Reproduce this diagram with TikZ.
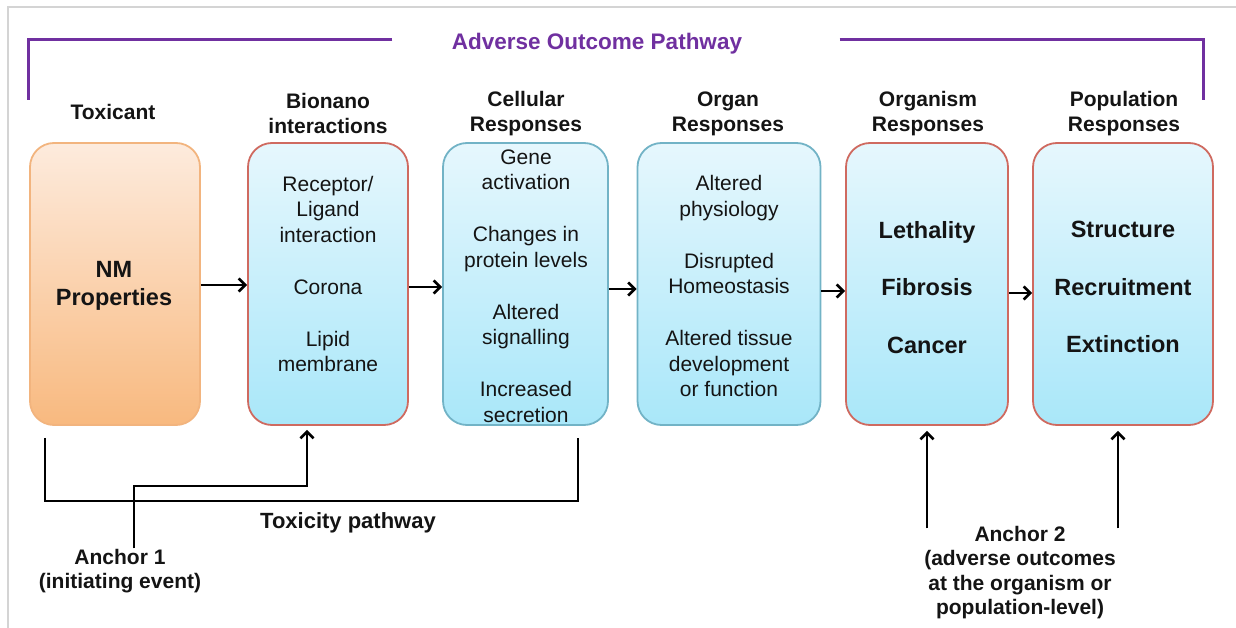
\documentclass[tikz,border=0pt]{standalone}
\usepackage{fontspec}
\setmainfont{Liberation Sans}
\usetikzlibrary{arrows.meta}
\definecolor{aopurple}{HTML}{7030A0}
\definecolor{boxred}{HTML}{CF6A60}
\definecolor{boxteal}{HTML}{72B3C6}
\definecolor{boxorange}{HTML}{F2B47E}
\definecolor{bluetop}{HTML}{E6F7FD}
\definecolor{bluebot}{HTML}{A9E7F9}
\definecolor{orangetop}{HTML}{FDEBDD}
\definecolor{orangebot}{HTML}{F8B97F}
\definecolor{framegray}{HTML}{D4D4D4}
\definecolor{txt}{HTML}{141414}
\tikzset{
  stagebox/.style={rounded corners=24pt, line width=1.8pt, minimum height=282pt, inner sep=0pt},
  orangebox/.style={stagebox, draw=boxorange, top color=orangetop, bottom color=orangebot},
  redbox/.style={stagebox, draw=boxred, top color=bluetop, bottom color=bluebot},
  tealbox/.style={stagebox, draw=boxteal, top color=bluetop, bottom color=bluebot},
  headtxt/.style={font=\bfseries\fontsize{21}{25}\selectfont, align=center, text=txt},
  bodytxt/.style={font=\fontsize{21}{25.5}\selectfont, align=center, text=txt},
  bigtxt/.style={font=\bfseries\fontsize{23.5}{28}\selectfont, align=center, text=txt},
  anchtxt/.style={font=\bfseries\fontsize{21}{24.5}\selectfont, align=center, text=txt},
  conn/.style={line width=2.7pt, black},
  arr/.style={conn, -{Straight Barb[length=6.5pt,width=13pt]}},
  pline/.style={line width=3pt, aopurple}
}
\begin{document}
\begin{tikzpicture}[x=1pt, y=-1pt]
\useasboundingbox (0,0) rectangle (1236,628);
\draw[framegray, line width=2pt] (8,628) -- (8,7) -- (1236,7);

% title and purple bracket
\node[font=\bfseries\fontsize{22.5}{26}\selectfont, text=aopurple] (aop) at (597,44) {Adverse Outcome Pathway};
\draw[pline] ([xshift=-56pt,yshift=4pt]aop.west) -| (28,100);
\draw[pline] ([xshift=94pt,yshift=4pt]aop.east) -| (1203,100);

% headers
\node[headtxt] (h1) at (113,112) {Toxicant};
\node[headtxt] (h2) at (328,113.5) {Bionano\\interactions};
\node[headtxt] (h3) at (526,113.5) {Cellular\\Responses};
\node[headtxt] (h4) at (728,113.5) {Organ\\Responses};
\node[headtxt] (h5) at (928,113.5) {Organism\\Responses};
\node[headtxt] (h6) at (1124,113.5) {Population\\Responses};

% boxes
\node[orangebox, minimum width=170pt] (tox) at (115,284) {};
\node[redbox, minimum width=160pt] (bio) at (328,284) {};
\node[tealbox, minimum width=165pt] (cell) at (525.5,284) {};
\node[tealbox, minimum width=183pt] (organ) at (729,284) {};
\node[redbox, minimum width=162pt] (orgm) at (927,284) {};
\node[redbox, minimum width=180pt] (pop) at (1123,284) {};

% box texts
\node[bigtxt] (toxt) at (114,286) {NM\\Properties};
\node[bodytxt] (biot) at (328,274) {Receptor/\\Ligand\\interaction\\[26.5pt]Corona\\[26.5pt]Lipid\\membrane};
\node[bodytxt] (cellt) at (526,286) {Gene\\activation\\[26.5pt]Changes in\\protein levels\\[26.5pt]Altered\\signalling\\[26.5pt]Increased\\secretion};
\node[bodytxt] (organt) at (729,286) {Altered\\physiology\\[26.5pt]Disrupted\\Homeostasis\\[26.5pt]Altered tissue\\development\\or function};
\node[bigtxt] (orgmt) at (927,287.5) {Lethality\\[29.5pt]Fibrosis\\[29.5pt]Cancer};
\node[bigtxt] (popt) at (1123,287) {Structure\\[29.5pt]Recruitment\\[29.5pt]Extinction};

% flow arrows
\draw[arr] ([yshift=-1pt]tox.east) -- ([yshift=-1pt]bio.west);
\draw[arr] ([yshift=-3pt]bio.east) -- ([yshift=-3pt]cell.west);
\draw[arr] ([yshift=-5pt]cell.east) -- ([yshift=-5pt]organ.west);
\draw[arr] ([yshift=-7pt]organ.east) -- ([yshift=-7pt]orgm.west);
\draw[arr] ([yshift=-9pt]orgm.east) -- ([yshift=-9pt]pop.west);

% toxicity pathway bracket
\draw[conn] ([xshift=-70pt,yshift=-12pt]tox.south) -- ++(0,63) -| ([xshift=52.5pt,yshift=-12pt]cell.south);
\node[font=\bfseries\fontsize{22}{26}\selectfont, text=txt] (tp) at (348,523) {Toxicity pathway};

% anchor 1
\node[anchtxt] (a1) at (120,571) {Anchor 1\\(initiating event)};
\coordinate (a1bend) at (307,486);
\draw[arr, shorten >=4pt] ([xshift=14pt,yshift=-3pt]a1.north) |- (a1bend) -- (bio.south -| a1bend);

% anchor 2
\node[anchtxt] (a2) at (1020,572.5) {Anchor 2\\(adverse outcomes\\at the organism or\\population-level)};
\draw[arr, shorten >=5pt] (a2.north -| orgm.south) ++(0,6) -- (orgm.south);
\draw[arr, shorten >=5pt] (a2.north -| pop.south) ++(-5,6) -- ([xshift=-5pt]pop.south);
\end{tikzpicture}
\end{document}
